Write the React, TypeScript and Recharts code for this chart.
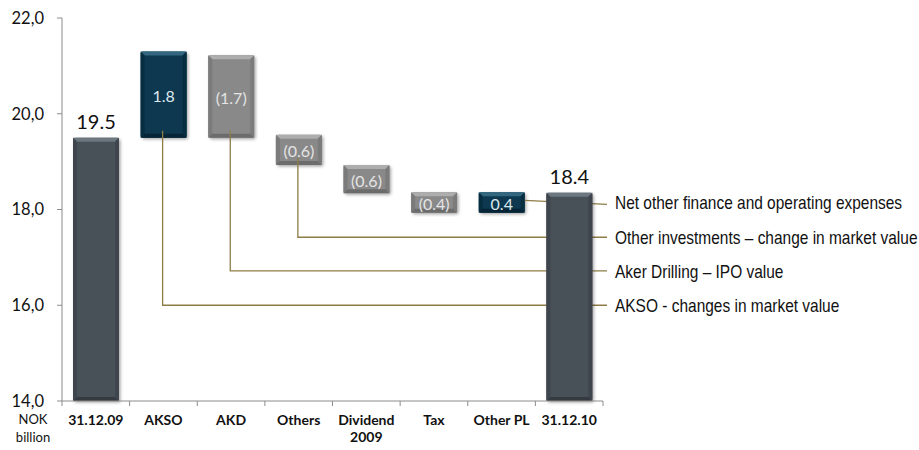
import React from "react";
import { BarChart, Bar, XAxis, YAxis, LabelList, Label } from "recharts";

// waterfall: NOK billion, 31.12.09 -> 31.12.10
const categories = ["31.12.09", "AKSO", "AKD", "Others", "Dividend\n2009", "Tax", "Other PL", "31.12.10"];
const lows = [14, 19.5, 19.5, 18.93, 18.34, 17.93, 17.93, 14];
const highs = [19.5, 21.3, 21.22, 19.56, 18.93, 18.36, 18.36, 18.35];
const valueLabels = ["19.5", "1.8", "(1.7)", "(0.6)", "(0.6)", "(0.4)", "0.4", "18.4"];
const kinds = ["total", "increase", "decrease", "decrease", "decrease", "decrease", "increase", "total"];

const noteCategories = ["AKSO", "AKD", "Others", "Other PL"];
const noteTexts = [
  "AKSO - changes in market value",
  "Aker Drilling – IPO value",
  "Other investments – change in market value",
  "Net other finance and operating expenses",
];
const noteLevels = [16.0, 16.72, 17.42, 18.15];

const yTicks = [14, 16, 18, 20, 22];

const W = 919;
const H = 450;
const MARGIN = { top: 18, right: 316, bottom: 0, left: 0 };
const PLOT_RIGHT = W - MARGIN.right;

const COLORS: Record<string, { base: string; light: string; side: string; dark: string; text: string }> = {
  total: { base: "#4a5159", light: "#6d7780", side: "#3f454c", dark: "#353a40", text: "#111111" },
  increase: { base: "#0a3850", light: "#336780", side: "#072d41", dark: "#052435", text: "#dde8ee" },
  decrease: { base: "#898989", light: "#adadad", side: "#7b7b7b", dark: "#6c6c6c", text: "#e4e4e4" },
};
const NOTE_COLOR = "#8e7c47";
const AXIS_COLOR = "#8c8c8c";

const data = categories.map((name, i) => {
  const n = noteCategories.indexOf(name);
  return {
    name,
    range: [lows[i], highs[i]],
    label: valueLabels[i],
    kind: kinds[i],
    note: n >= 0 ? noteTexts[n] : null,
    noteLevel: n >= 0 ? noteLevels[n] : null,
  };
});

function WaterfallBar(props: any) {
  const { x, y, width, height, payload } = props;
  if (height == null || width == null) return null;
  const [low, high] = payload.range;
  const ppu = height / (high - low);
  const yOf = (v: number) => y + (high - v) * ppu;
  const c = COLORS[payload.kind];
  const b = 4;

  let note = null;
  if (payload.note) {
    const ly = yOf(payload.noteLevel);
    const endX = PLOT_RIGHT + 4;
    let path;
    if (payload.noteLevel >= low && payload.noteLevel <= high) {
      path = `M${x + width},${ly - 2} L${endX},${ly + 2}`;
    } else {
      const cx = x + width / 2 - 1;
      path = `M${cx},${y + height - 7} L${cx},${ly} L${endX},${ly}`;
    }
    // Arial Narrow look: Liberation Sans squeezed horizontally
    note = (
      <g>
        <path d={path} stroke={NOTE_COLOR} strokeWidth={1.3} fill="none" />
        <text
          transform={`translate(${endX + 8},${ly + 1}) scale(0.86,1)`}
          dominantBaseline="central"
          fontSize={18}
          fontFamily="'Liberation Sans', Arial, sans-serif"
          fill="#111"
        >
          {payload.note}
        </text>
      </g>
    );
  }

  return (
    <g>
      <rect x={x} y={y} width={width} height={height} rx={2} fill={c.base} filter="url(#barShadow)" />
      <polygon points={`${x},${y} ${x + width},${y} ${x + width - b},${y + b} ${x + b},${y + b}`} fill={c.light} />
      <polygon points={`${x},${y} ${x + b},${y + b} ${x + b},${y + height - b} ${x},${y + height}`} fill={c.side} />
      <polygon
        points={`${x + width},${y} ${x + width - b},${y + b} ${x + width - b},${y + height - b} ${x + width},${y + height}`}
        fill={c.side}
      />
      <polygon
        points={`${x},${y + height} ${x + b},${y + height - b} ${x + width - b},${y + height - b} ${x + width},${y + height}`}
        fill={c.dark}
      />
      {note}
    </g>
  );
}

function ValueLabel(props: any) {
  const { x, y, width, height, value, index } = props;
  const kind = kinds[index];
  const c = COLORS[kind];
  if (kind === "total") {
    return (
      <text x={x + width / 2} y={y - 9} textAnchor="middle" fontSize={20} fontFamily="Lato" fill={c.text}>
        {value}
      </text>
    );
  }
  return (
    <text
      x={x + width / 2}
      y={y + height / 2 + 1}
      textAnchor="middle"
      dominantBaseline="central"
      fontSize={16}
      fontFamily="Lato"
      fill={c.text}
    >
      {value}
    </text>
  );
}

function CategoryTick(props: any) {
  const { x, y, payload, index } = props;
  const half = payload.offset || (PLOT_RIGHT - 62) / categories.length / 2;
  const lines = String(payload.value).split("\n");
  return (
    <g>
      <line x1={x - half} y1={y} x2={x - half} y2={y + 5} stroke={AXIS_COLOR} />
      {index === categories.length - 1 && (
        <line x1={x + half} y1={y} x2={x + half} y2={y + 5} stroke={AXIS_COLOR} />
      )}
      {lines.map((t, i) => (
        <text
          key={i}
          x={x}
          y={y + 24 + i * 17}
          textAnchor="middle"
          fontSize={14}
          fontWeight="bold"
          fontFamily="Lato"
          fill="#111"
        >
          {t}
        </text>
      ))}
    </g>
  );
}

function UnitLabel(props: any) {
  const { viewBox } = props;
  const cx = viewBox.x + viewBox.width - 29;
  const base = viewBox.y + viewBox.height;
  return (
    <g>
      <text x={cx} y={base + 23} textAnchor="middle" fontSize={13} fontFamily="Lato" fill="#111">
        NOK
      </text>
      <text x={cx} y={base + 41} textAnchor="middle" fontSize={13} fontFamily="Lato" fill="#111">
        billion
      </text>
    </g>
  );
}

export default function App() {
  return (
    <div style={{ position: "absolute", left: 0, top: 0, width: W, height: H, background: "#fff" }}>
      <BarChart width={W} height={H} data={data} margin={MARGIN} barSize={46} style={{ fontFamily: "Lato" }}>
        <defs>
          <filter id="barShadow" x="-20%" y="-20%" width="140%" height="140%">
            <feDropShadow dx={1.5} dy={1.5} stdDeviation={1.5} floodColor="#000" floodOpacity={0.35} />
          </filter>
        </defs>
        <XAxis
          dataKey="name"
          interval={0}
          height={49}
          tickLine={false}
          tickSize={0}
          tickMargin={0}
          axisLine={{ stroke: AXIS_COLOR }}
          tick={<CategoryTick />}
        />
        <YAxis
          type="number"
          domain={[14, 22]}
          ticks={yTicks}
          interval={0}
          width={62}
          tickSize={5}
          tickMargin={13}
          axisLine={{ stroke: AXIS_COLOR }}
          tickLine={{ stroke: AXIS_COLOR }}
          tick={{ fill: "#111", fontSize: 16.5, fontFamily: "Lato" }}
          tickFormatter={(v: number) => v.toFixed(1).replace(".", ",")}
        >
          <Label content={<UnitLabel />} />
        </YAxis>
        <Bar dataKey="range" shape={<WaterfallBar />} isAnimationActive={false}>
          <LabelList dataKey="label" content={<ValueLabel />} />
        </Bar>
      </BarChart>
    </div>
  );
}
